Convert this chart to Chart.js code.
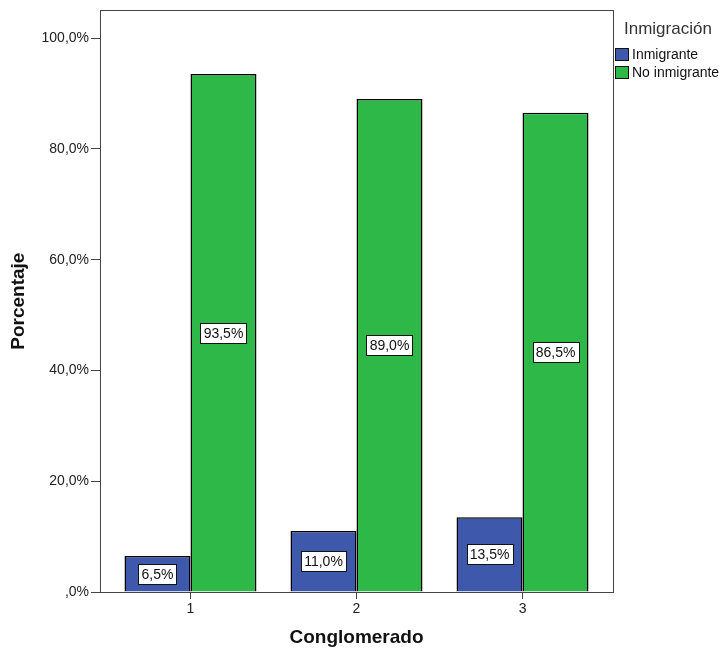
<!DOCTYPE html>
<html>
<head>
<meta charset="utf-8">
<script src="https://cdn.jsdelivr.net/npm/chart.js@4.4.0/dist/chart.umd.min.js"></script>
<style>
  body { margin: 0; background: #fff; }
  canvas { display: block; }
</style>
</head>
<body>
<canvas id="barChart" width="721" height="655"></canvas>
<script>
// data
var categories = ["1", "2", "3"];
var inmigrante = [6.5, 11.0, 13.5];
var noInmigrante = [93.5, 89.0, 86.5];
var yTickValues = [0, 20, 40, 60, 80, 100];
var yTickLabels = [",0%", "20,0%", "40,0%", "60,0%", "80,0%", "100,0%"];

var FONT = "'Liberation Sans', Arial, sans-serif";

// categories sit at 1, 2, 3 on a linear x scale
function toPoints(arr) {
    return arr.map(function (v, i) { return { x: i + 1, y: v }; });
}

function fmt(v) {
    return v.toFixed(1).replace('.', ',') + '%';
}

// white boxed value labels in the middle of each bar + frame + legend
var spssPlugin = {
    id: 'spss',
    afterDatasetsDraw: function (chart) {
        var ctx = chart.ctx;
        ctx.save();
        ctx.font = '14px ' + FONT;
        ctx.textAlign = 'center';
        ctx.textBaseline = 'middle';
        chart.data.datasets.forEach(function (ds, i) {
            var meta = chart.getDatasetMeta(i);
            meta.data.forEach(function (bar, j) {
                var txt = fmt(ds.data[j].y);
                var w = Math.round(ctx.measureText(txt).width + 6);
                var h = 20;
                var cy = (bar.y + bar.base) / 2;
                var x0 = Math.round(bar.x - w / 2) + 0.5;
                var y0 = Math.round(cy - h / 2) + 0.5;
                ctx.fillStyle = '#fff';
                ctx.fillRect(x0, y0, w, h);
                ctx.strokeStyle = '#111';
                ctx.lineWidth = 1;
                ctx.strokeRect(x0, y0, w, h);
                ctx.fillStyle = '#111';
                ctx.fillText(txt, bar.x, cy + 1);
            });
        });
        ctx.restore();
    },
    afterDraw: function (chart) {
        var ctx = chart.ctx;
        var a = chart.chartArea;
        ctx.save();
        // plot frame
        ctx.strokeStyle = '#444';
        ctx.lineWidth = 1;
        ctx.strokeRect(Math.round(a.left) + 0.5, Math.round(a.top) + 0.5,
            Math.round(a.right - a.left), Math.round(a.bottom - a.top));

        // legend
        var lx = a.right + 11;
        ctx.fillStyle = '#333';
        ctx.font = '17px ' + FONT;
        ctx.textAlign = 'left';
        ctx.textBaseline = 'middle';
        ctx.fillText('Inmigración', lx, 29);
        ctx.font = '14px ' + FONT;
        chart.data.datasets.forEach(function (ds, i) {
            var y = 48 + i * 18;
            ctx.fillStyle = ds.backgroundColor;
            ctx.fillRect(lx - 9, y, 14, 13);
            ctx.strokeStyle = '#111';
            ctx.strokeRect(lx - 9 + 0.5, y + 0.5, 13, 12);
            ctx.fillStyle = '#111';
            ctx.fillText(ds.label, lx + 8, y + 7);
        });
        ctx.restore();
    }
};

var ctxB = document.getElementById("barChart").getContext('2d');
var myBarChart = new Chart(ctxB, {
    type: 'bar',
    plugins: [spssPlugin],
    data: {
        datasets: [{
            label: 'Inmigrante',
            data: toPoints(inmigrante),
            backgroundColor: '#3e58ac',
            borderColor: '#000',
            borderWidth: 1.5
        }, {
            label: 'No inmigrante',
            data: toPoints(noInmigrante),
            backgroundColor: '#2eb848',
            borderColor: '#000',
            borderWidth: 1.5
        }]
    },
    options: {
        responsive: false,
        animation: false,
        events: [],
        layout: {
            padding: { left: 0, top: 10, right: 108, bottom: 0 }
        },
        datasets: {
            bar: {
                categoryPercentage: 0.795,
                barPercentage: 1.0
            }
        },
        plugins: {
            legend: { display: false },
            tooltip: { enabled: false }
        },
        scales: {
            x: {
                type: 'linear',
                min: 0.455,
                max: 3.545,
                offset: false,
                grid: {
                    offset: false,
                    drawOnChartArea: false,
                    tickLength: 7,
                    color: '#444'
                },
                border: { color: '#444' },
                ticks: {
                    color: '#222',
                    padding: 2,
                    font: { size: 14, family: FONT },
                    callback: function (value) {
                        return categories[value - 1] || '';
                    }
                },
                afterBuildTicks: function (scale) {
                    scale.ticks = categories.map(function (c, i) { return { value: i + 1 }; });
                },
                title: {
                    display: true,
                    text: 'Conglomerado',
                    color: '#111',
                    padding: { top: 0, bottom: 6 },
                    font: { size: 19, weight: 'bold', family: FONT }
                },
                afterFit: function (scale) {
                    scale.height = 63;
                }
            },
            y: {
                min: 0,
                max: 105,
                grid: {
                    drawOnChartArea: false,
                    tickLength: 9,
                    color: '#444'
                },
                border: { color: '#444' },
                ticks: {
                    color: '#222',
                    padding: 2,
                    font: { size: 14, family: FONT },
                    callback: function (value) {
                        var k = yTickValues.indexOf(value);
                        return k >= 0 ? yTickLabels[k] : '';
                    }
                },
                afterBuildTicks: function (scale) {
                    scale.ticks = yTickValues.map(function (v) { return { value: v }; });
                },
                title: {
                    display: true,
                    text: 'Porcentaje',
                    color: '#111',
                    padding: { top: 7, bottom: 0 },
                    font: { size: 19, weight: 'bold', family: FONT }
                },
                afterFit: function (scale) {
                    scale.width = 100;
                }
            }
        }
    }
});
</script>
</body>
</html>
